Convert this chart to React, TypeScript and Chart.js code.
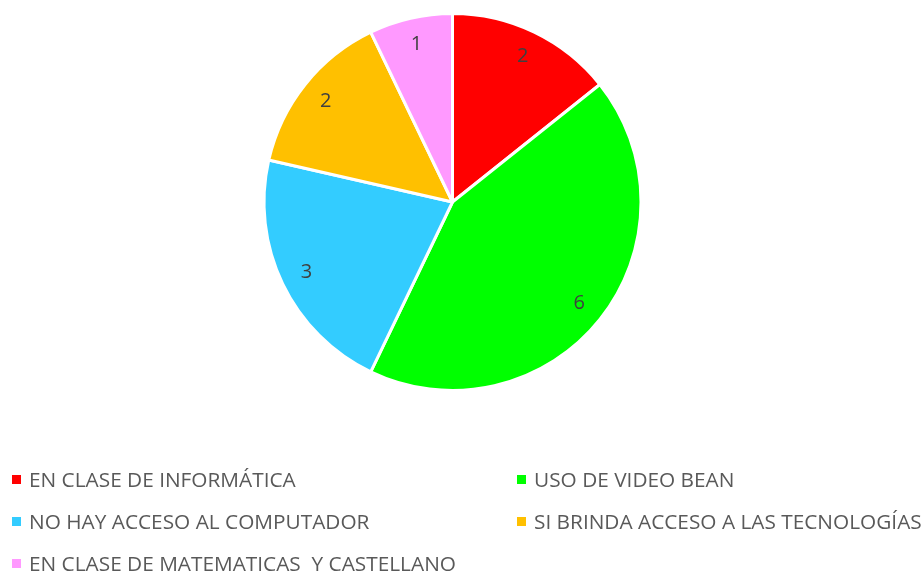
import React, { useEffect, useRef } from "react";
import { Chart, registerables } from "chart.js";

Chart.register(...registerables);

const categories = [
  "EN CLASE DE INFORMÁTICA",
  "USO DE VIDEO BEAN",
  "NO HAY ACCESO AL COMPUTADOR",
  "SI BRINDA ACCESO A LAS TECNOLOGÍAS",
  "EN CLASE DE MATEMATICAS  Y CASTELLANO",
];
const values = [2, 6, 3, 2, 1];
const colors = ["#FF0000", "#00FF00", "#33CCFF", "#FFC000", "#FF99FF"];

const FONT = "'Open Sans', 'Liberation Sans', sans-serif";

const labelPlugin = {
  id: "sliceLabels",
  afterDatasetsDraw(chart: any) {
    const ctx = chart.ctx;
    const meta = chart.getDatasetMeta(0);
    ctx.save();
    ctx.fillStyle = "#404040";
    ctx.font = `20px ${FONT}`;
    ctx.textAlign = "center";
    ctx.textBaseline = "middle";
    meta.data.forEach((arc: any, i: number) => {
      const p = arc.getProps(["x", "y", "startAngle", "endAngle", "outerRadius"], true);
      const mid = (p.startAngle + p.endAngle) / 2;
      const r = p.outerRadius * 0.86;
      ctx.fillText(String(values[i]), p.x + Math.cos(mid) * r, p.y + Math.sin(mid) * r);
    });
    ctx.restore();
  },
};

export default function App() {
  const ref = useRef<HTMLCanvasElement>(null);
  useEffect(() => {
    const chart = new Chart(ref.current!, {
      type: "pie",
      data: {
        labels: categories,
        datasets: [
          {
            data: values,
            backgroundColor: colors,
            borderColor: "#FFFFFF",
            borderWidth: 3,
          },
        ],
      },
      options: {
        animation: false,
        responsive: false,
        radius: 188.5,
        layout: { padding: { left: 0, right: 17, top: 0, bottom: 167 } },
        plugins: { legend: { display: false }, tooltip: { enabled: false } },
      } as any,
      plugins: [labelPlugin],
    });
    return () => chart.destroy();
  }, []);

  const legendPos = [
    { x: 12, y: 479 },
    { x: 517, y: 479 },
    { x: 12, y: 521 },
    { x: 517, y: 521 },
    { x: 12, y: 563 },
  ];

  return (
    <div style={{ position: "fixed", left: 0, top: 0, width: 922, height: 571, background: "#fff" }}>
      <canvas ref={ref} width={922} height={571} style={{ position: "absolute", left: 0, top: 0 }} />
      {categories.map((c, i) => (
        <div
          key={c}
          style={{
            position: "absolute",
            left: legendPos[i].x,
            top: legendPos[i].y - 14,
            height: 28,
            display: "flex",
            alignItems: "center",
            whiteSpace: "pre",
            fontFamily: FONT,
            fontSize: 20.8,
            color: "#595959",
          }}
        >
          <span style={{ width: 9, height: 9, background: colors[i], display: "inline-block", marginRight: 8 }} />
          <span>{c}</span>
        </div>
      ))}
    </div>
  );
}
